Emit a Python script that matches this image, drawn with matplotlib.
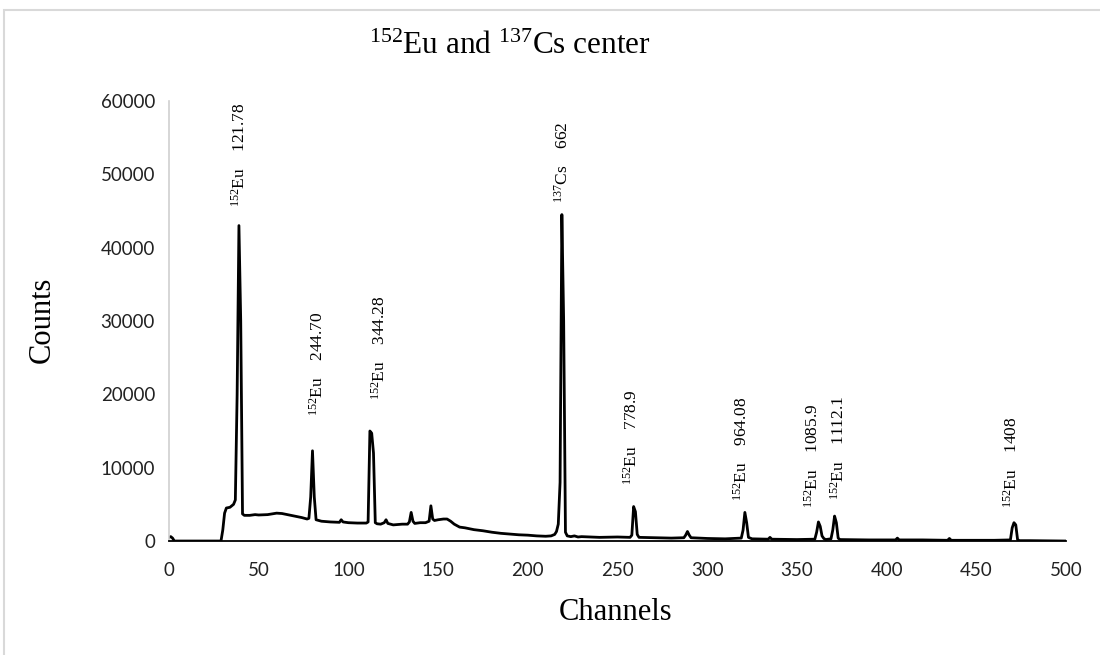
import matplotlib
matplotlib.use("Agg")
import matplotlib.pyplot as plt
from matplotlib.patches import Rectangle

plt.rcParams['mathtext.fontset'] = 'custom'
plt.rcParams['mathtext.rm'] = 'Liberation Serif'
plt.rcParams['mathtext.it'] = 'Liberation Serif:italic'

# gamma spectrum, channel vs counts
channels = [0, 1, 2, 3, 29, 30, 31, 32, 34, 36, 37, 38, 39, 40, 41, 42, 45, 48, 50,
            55, 60, 63, 66, 70, 74, 77, 78, 79, 80, 81, 82, 85, 90, 95, 96, 97, 100,
            105, 110, 111, 112, 113, 114, 115, 116, 118, 120, 121, 122, 125, 130, 133,
            134, 135, 136, 137, 140, 143, 145, 146, 147, 148, 150, 153, 155, 157, 159,
            162, 165, 170, 175, 180, 185, 190, 195, 200, 205, 210, 213, 215, 216, 217,
            218, 219, 220, 221, 222, 224, 226, 228, 230, 240, 250, 257, 258, 259, 260,
            261, 262, 270, 280, 287, 288, 289, 290, 291, 300, 310, 319, 320, 321, 322,
            323, 325, 334, 335, 336, 350, 360, 361, 362, 363, 364, 365, 366, 369, 370,
            371, 372, 373, 374, 390, 405, 406, 407, 420, 434, 435, 436, 460, 469, 470,
            471, 472, 473, 474, 480, 500]
counts = [500, 600, 400, 0, 0, 1500, 3800, 4500, 4600, 5000, 5600, 20000, 43000, 30000,
          3700, 3500, 3500, 3600, 3550, 3600, 3800, 3750, 3600, 3400, 3200, 3000, 3100,
          6000, 12300, 6000, 2900, 2700, 2600, 2550, 2900, 2600, 2500, 2450, 2450, 2600,
          15000, 14700, 12000, 2500, 2350, 2300, 2500, 2900, 2400, 2200, 2300, 2300, 2600,
          3900, 2700, 2400, 2500, 2500, 2700, 4800, 3000, 2800, 2900, 3000, 3000, 2700,
          2300, 1900, 1800, 1550, 1400, 1200, 1050, 950, 850, 800, 700, 650, 700, 900,
          1300, 2300, 8000, 44500, 30000, 1200, 700, 600, 700, 550, 600, 500, 550, 500,
          800, 4700, 4000, 900, 500, 450, 400, 450, 800, 1300, 800, 450, 350, 300, 400,
          1500, 3900, 2500, 500, 300, 250, 500, 250, 200, 250, 1200, 2600, 2000, 700, 350,
          200, 300, 1500, 3400, 2500, 400, 200, 150, 150, 400, 150, 150, 100, 350, 100,
          100, 150, 1800, 2500, 2200, 200, 50, 50, 0]

# peak labels: isotope, energy (keV), label channel, label base height
peak_iso = ['152', '152', '152', '137', '152', '152', '152', '152', '152']
peak_elem = ['Eu', 'Eu', 'Eu', 'Cs', 'Eu', 'Eu', 'Eu', 'Eu', 'Eu']
peak_energy = ['121.78', '244.70', '344.28', '662', '778.9', '964.08', '1085.9',
               '1112.1', '1408']
label_ch = [39.6, 83, 117.5, 219.6, 258, 319.4, 359, 373.5, 470]
label_y = [45500, 17000, 19200, 46100, 7600, 5450, 4500, 5600, 4500]

fig = plt.figure(figsize=(11, 6.55), dpi=100)
ax = fig.add_axes([0.1536, 0.174, 0.8155, 0.672])

ax.plot(channels, counts, color='black', lw=2, solid_joinstyle='round')

ax.set_xlim(0, 500)
ax.set_ylim(0, 60000)
ax.set_xticks(range(0, 501, 50))
ax.set_yticks(range(0, 60001, 10000))
ax.tick_params(axis='both', length=0, labelsize=13.5)
ax.tick_params(axis='x', pad=15)
ax.tick_params(axis='y', pad=10)
for lbl in ax.get_xticklabels() + ax.get_yticklabels():
    lbl.set_fontfamily('Lato')
    lbl.set_color('#222222')

for side in ['top', 'right']:
    ax.spines[side].set_visible(False)
ax.spines['left'].set_color('#d0d0d0')
ax.spines['left'].set_linewidth(1.2)
ax.spines['bottom'].set_color('black')
ax.spines['bottom'].set_linewidth(1.3)

for iso, el, en, x, y in zip(peak_iso, peak_elem, peak_energy, label_ch, label_y):
    ax.text(x, y, r'$^{\mathrm{%s}}$%s    %s' % (iso, el, en), rotation=90,
            ha='center', va='bottom', fontsize=12.5, family='Liberation Serif')

fig.text(510 / 1100, 1 - 46 / 655, r'$^{\mathrm{152}}$Eu and $^{\mathrm{137}}$Cs center',
         ha='center', va='center', fontsize=22.5, family='Liberation Serif')
fig.text(42 / 1100, 1 - 320 / 655, 'Counts', rotation=90, ha='center', va='center',
         fontsize=22, family='Liberation Serif')
fig.text(616 / 1100, 1 - 612 / 655, 'Channels', ha='center', va='center',
         fontsize=22, family='Liberation Serif')

# chart frame
fig.patches.append(Rectangle((4 / 1100, -0.05), 1.2, 1.05 - 10 / 655,
                             transform=fig.transFigure, fill=False,
                             edgecolor='#d9d9d9', lw=1.5))

fig.savefig('out.png', dpi=100)
